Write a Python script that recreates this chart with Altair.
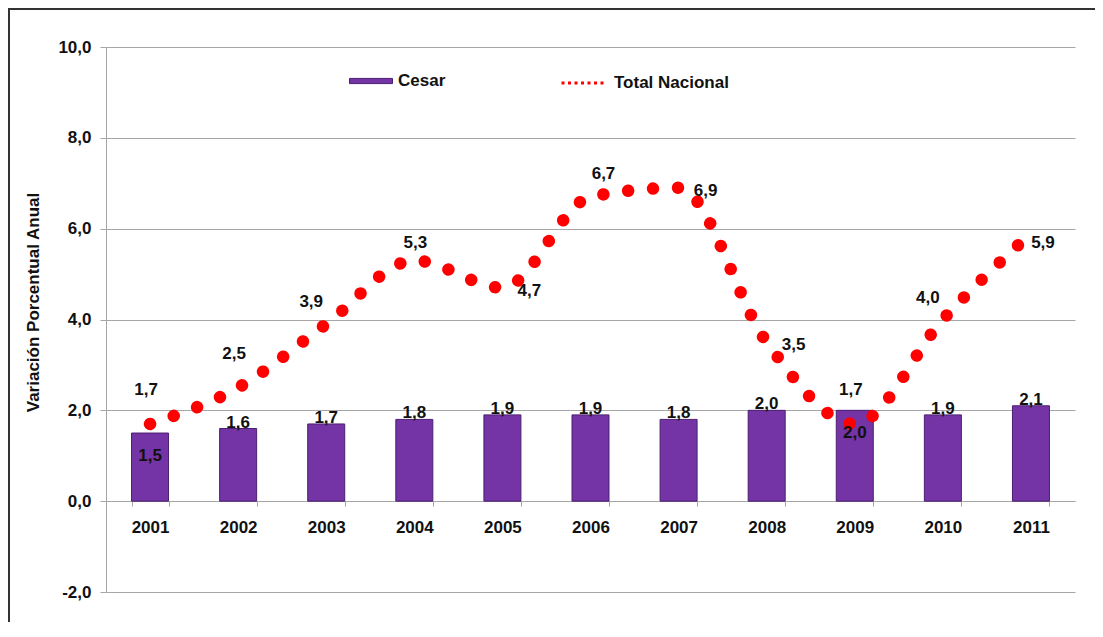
import altair as alt
import pandas as pd

years = ["2001", "2002", "2003", "2004", "2005", "2006", "2007", "2008", "2009", "2010", "2011"]
cesar = [1.5, 1.6, 1.7, 1.8, 1.9, 1.9, 1.8, 2.0, 2.0, 1.9, 2.1]
nacional = [1.7, 2.5, 3.9, 5.3, 4.7, 6.7, 6.9, 3.5, 1.7, 4.0, 5.9]
y_ticks = [-2, 0, 2, 4, 6, 8, 10]
series_names = ["Cesar", "Total Nacional"]

df = pd.DataFrame({"year": years, "cesar": cesar, "nacional": nacional})

W, H = 969, 545
FONT = "Liberation Sans"
PURPLE = "#7434A6"
RED = "#FF0000"
GRID = "#A6A6A6"
comma = "replace(replace(format(datum.value, '.1f'), '.', ','), '\u2212', '-')"

xscale = alt.Scale(domain=years, paddingInner=0.58, paddingOuter=0.29)
yscale = alt.Scale(domain=[-2, 10], nice=False, zero=False)

x_enc = alt.X(
    "year:N", scale=xscale,
    axis=alt.Axis(title=None, offset=-91, tickBand="extent", labelAngle=0,
                  labelFont=FONT, labelFontSize=17, labelFontWeight="bold",
                  labelColor="#111111", labelPadding=13, tickSize=5,
                  tickColor=GRID, domainColor=GRID, grid=False),
)

y_axis = alt.Axis(
    values=y_ticks, labelExpr=comma, grid=True, gridColor=GRID,
    domainColor=GRID, tickColor=GRID, tickSize=6, labelPadding=9,
    labelFont=FONT, labelFontSize=17, labelFontWeight="bold", labelColor="#111111",
    title="Variación Porcentual Anual", titleFont=FONT, titleFontSize=17,
    titleFontWeight="bold", titleColor="#111111", titleX=-73, titleY=255,
    titleAngle=270, titleAlign="center", titleBaseline="middle",
)

base = alt.Chart(df).transform_calculate(
    cesar_lbl="replace(format(datum.cesar, '.1f'), '.', ',')",
    nac_lbl="replace(format(datum.nacional, '.1f'), '.', ',')",
    s1="'" + series_names[0] + "'",
    s2="'" + series_names[1] + "'",
)

bars = base.mark_bar(stroke="#4B1F6F", strokeWidth=1).encode(
    x=x_enc,
    y=alt.Y("cesar:Q", scale=yscale, axis=y_axis),
    color=alt.Color(
        "s1:N", scale=alt.Scale(domain=[series_names[0]], range=[PURPLE]),
        legend=alt.Legend(title=None, orient="none", legendX=243, legendY=12,
                          padding=0, symbolType="M-1,-0.12H1V0.12H-1Z", symbolSize=1849,
                          symbolStrokeColor="#4B1F6F", symbolStrokeWidth=1,
                          labelFont=FONT, labelFontSize=17, labelFontWeight="bold",
                          labelColor="#111111", labelOffset=5),
    ),
)

line = base.mark_line(interpolate="monotone", strokeWidth=12.5, strokeDash=[0.01, 25],
                      strokeCap="round").encode(
    x=alt.X("year:N", scale=xscale),
    y=alt.Y("nacional:Q", scale=yscale),
    stroke=alt.Stroke(
        "s2:N", scale=alt.Scale(domain=[series_names[1]], range=[RED]),
        legend=alt.Legend(title=None, orient="none", legendX=454, legendY=12,
                          padding=0, symbolType="stroke", symbolSize=2025,
                          symbolStrokeWidth=3, symbolDash=[3, 3.5],
                          labelFont=FONT, labelFontSize=17, labelFontWeight="bold",
                          labelColor="#111111", labelOffset=6),
    ),
)

txt = dict(font=FONT, fontSize=17, fontWeight="bold", color="#111111")

inside_years = ["2001", "2009"]
bar_lbl_above = base.mark_text(baseline="alphabetic", dy=-1, **txt).encode(
    x=alt.X("year:N", scale=xscale), y=alt.Y("cesar:Q", scale=yscale), text="cesar_lbl:N"
).transform_filter(alt.FieldOneOfPredicate(field="year", oneOf=inside_years).__invert__())
bar_lbl_inside = base.mark_text(baseline="middle", dy=23, **txt).encode(
    x=alt.X("year:N", scale=xscale), y=alt.Y("cesar:Q", scale=yscale), text="cesar_lbl:N"
).transform_filter(alt.FieldOneOfPredicate(field="year", oneOf=inside_years))

placements = [
    ((-4, -34), ["2001", "2002", "2009"]),
    ((-15, -22), ["2003", "2010"]),
    ((1, -17), ["2004"]),
    ((13, -23), ["2006"]),
    ((27, 3), ["2005", "2007", "2008"]),
    ((12, 10), ["2011"]),
]
line_lbls = []
for (dx, dy), yrs in placements:
    line_lbls.append(
        base.mark_text(baseline="middle", dx=dx, dy=dy, **txt).encode(
            x=alt.X("year:N", scale=xscale), y=alt.Y("nacional:Q", scale=yscale),
            text="nac_lbl:N",
        ).transform_filter(alt.FieldOneOfPredicate(field="year", oneOf=yrs))
    )

frame_df = pd.DataFrame({"k": [0]})
frame_top = alt.Chart(frame_df).mark_rule(color="#333333", strokeWidth=2).encode(
    x=alt.value(-98), x2=alt.value(W + 40), y=alt.value(-38))
frame_left = alt.Chart(frame_df).mark_rule(color="#333333", strokeWidth=2).encode(
    x=alt.value(-97), y=alt.value(-38), y2=alt.value(H + 40))

chart = alt.layer(bars, line, bar_lbl_above, bar_lbl_inside, *line_lbls, frame_top, frame_left).resolve_scale(
    color="independent", stroke="independent"
).properties(
    width=W, height=H,
    padding={"left": 98, "top": 39, "right": 20, "bottom": 30},
    autosize=alt.AutoSizeParams(type="none"),
    background="white",
).configure_view(stroke=None)

chart.save("out.html", embed_options={"renderer": "svg", "actions": False})
